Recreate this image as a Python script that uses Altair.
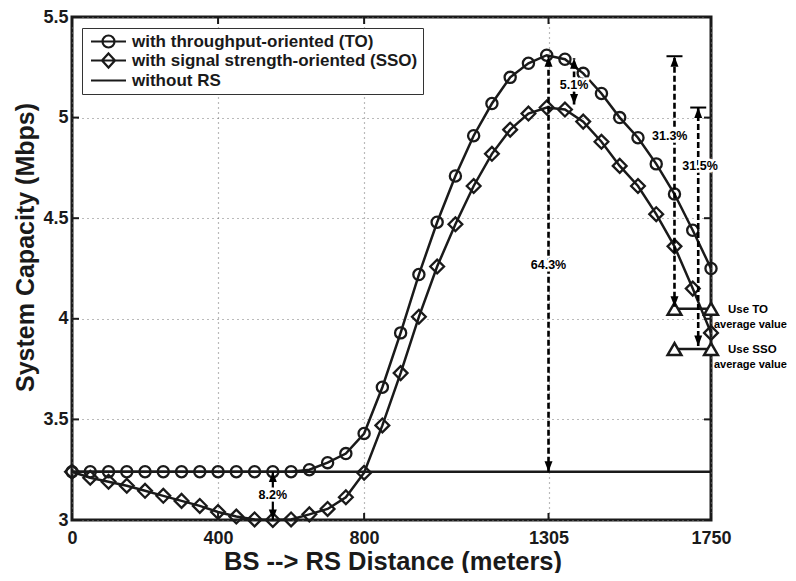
import altair as alt
import pandas as pd

# ---------------- data ----------------
dist = [0, 50, 100, 150, 200, 250, 300, 350, 400, 450, 500, 550, 600, 650, 700, 750,
        800, 850, 900, 950, 1000, 1050, 1100, 1150, 1200, 1250, 1300, 1350, 1400, 1450,
        1500, 1550, 1600, 1650, 1700, 1750]
cap_to = [3.24, 3.24, 3.24, 3.24, 3.24, 3.24, 3.24, 3.24, 3.24, 3.24, 3.24, 3.24, 3.24,
          3.25, 3.285, 3.33, 3.43, 3.66, 3.93, 4.22, 4.48, 4.71, 4.91, 5.07, 5.20, 5.27,
          5.31, 5.29, 5.22, 5.12, 5.00, 4.90, 4.77, 4.62, 4.44, 4.25]
cap_sso = [3.24, 3.21, 3.19, 3.17, 3.145, 3.12, 3.095, 3.07, 3.04, 3.017, 3.003, 3.0, 3.003,
           3.028, 3.055, 3.113, 3.235, 3.47, 3.73, 4.01, 4.26, 4.47, 4.66, 4.82, 4.94, 5.02,
           5.05, 5.04, 4.98, 4.88, 4.76, 4.66, 4.52, 4.36, 4.15, 3.93]
cap_no_rs = 3.24

x_ticks = [0, 400, 800, 1305, 1750]
y_ticks = [3, 3.5, 4, 4.5, 5, 5.5]

series_names = ["with throughput-oriented (TO)",
                "with signal strength-oriented (SSO)",
                "without RS"]

# percentage arrows
arrow_x = [1305, 1375, 1650, 1715, 550]
arrow_lo = [3.24, 5.065, 4.06, 3.865, 3.0]
arrow_hi = [5.305, 5.295, 5.305, 5.05, 3.24]
arrow_dashed = [True, True, True, True, False]
arrow_text = ["64.3%", "5.1%", "31.3%", "31.5%", "8.2%"]
arrow_text_x = [1305, 1375, 1637, 1720, 550]
arrow_text_y = [4.265, 5.16, 4.91, 4.76, 3.124]

cap_x = [1650, 1715]
cap_y = [5.305, 5.05]

avg_label = ["Use TO", "Use SSO"]
avg_value = [4.05, 3.85]
avg_from = [1650, 1650]
avg_to = [1750, 1750]

# ---------------- style ----------------
FONT = "Liberation Sans"
INK = "#1a1a1a"
W, H = 639, 503

xs = alt.Scale(domain=[0, 1750], nice=False, zero=False)
ys = alt.Scale(domain=[3, 5.5], nice=False, zero=False)

curves = pd.DataFrame({"d": dist * 2,
                       "v": cap_to + cap_sso,
                       "s": ["TO"] * len(dist) + ["SSO"] * len(dist)})
to_df = pd.DataFrame({"d": dist, "v": cap_to})
sso_df = pd.DataFrame({"d": dist, "v": cap_sso})
base_df = pd.DataFrame({"d": [dist[0], dist[-1]], "v": [cap_no_rs, cap_no_rs]})
arr_df = pd.DataFrame({"x": arrow_x, "lo": arrow_lo, "hi": arrow_hi,
                       "dashed": arrow_dashed, "t": arrow_text,
                       "tx": arrow_text_x, "ty": arrow_text_y})
capdf = pd.DataFrame({"x": cap_x, "y": cap_y})
avg_df = pd.DataFrame({"lab": avg_label, "y": avg_value, "x1": avg_from, "x2": avg_to})
avg_pts = pd.DataFrame({"x": avg_from + avg_to, "y": avg_value + avg_value})
xt_df = pd.DataFrame({"t": x_ticks})
yt_df = pd.DataFrame({"t": y_ticks})
leg_df = pd.DataFrame({"s": series_names})

X = alt.X("d:Q", scale=xs,
          axis=alt.Axis(values=x_ticks, title="BS --> RS Distance (meters)",
                        labelExpr="'' + datum.value",
                        grid=True, gridDash=[1, 4], gridColor="#777", gridWidth=1.2,
                        ticks=False, domain=False, labelPadding=9,
                        labelFont=FONT, labelFontSize=18, labelFontWeight="bold",
                        labelColor=INK, labelFlush=False,
                        titleFont=FONT, titleFontSize=25.5, titleFontWeight="bold",
                        titleColor=INK, titleBaseline="alphabetic", titleY=49,
                        titleX=W / 2 + 1))
Y = alt.Y("v:Q", scale=ys,
          axis=alt.Axis(values=y_ticks, title="System Capacity (Mbps)",
                        labelExpr="'' + datum.value",
                        grid=True, gridDash=[1, 4], gridColor="#777", gridWidth=1.2,
                        ticks=False, domain=False, labelPadding=4,
                        labelFont=FONT, labelFontSize=18, labelFontWeight="bold",
                        labelColor=INK, labelFlush=False,
                        titleFont=FONT, titleFontSize=25, titleFontWeight="bold",
                        titleColor=INK, titleAngle=270, titleAlign="center",
                        titleBaseline="alphabetic", titleX=-39, titleY=230))

base_line = alt.Chart(base_df).mark_line(color=INK, strokeWidth=2.5).encode(x=X, y=Y)

lines = alt.Chart(curves).mark_line(color=INK, strokeWidth=2.5).encode(
    x=alt.X("d:Q", scale=xs), y=alt.Y("v:Q", scale=ys), detail="s:N")

to_pts = alt.Chart(to_df).mark_point(shape="circle", size=125, filled=False,
                                     color=INK, strokeWidth=2.3, opacity=1).encode(
    x=alt.X("d:Q", scale=xs), y=alt.Y("v:Q", scale=ys))
sso_pts = alt.Chart(sso_df).mark_point(shape="diamond", size=190, filled=False,
                                       color=INK, strokeWidth=2.3, opacity=1).encode(
    x=alt.X("d:Q", scale=xs), y=alt.Y("v:Q", scale=ys))

# arrows
ax = alt.X("x:Q", scale=xs)
dashed_rules = alt.Chart(arr_df).transform_filter("datum.dashed").mark_rule(
    color="black", strokeWidth=2.6, strokeDash=[6, 3]).encode(
    x=ax, y=alt.Y("lo:Q", scale=ys), y2="hi:Q")
solid_rules = alt.Chart(arr_df).transform_filter("!datum.dashed").mark_rule(
    color="black", strokeWidth=2.2).encode(
    x=ax, y=alt.Y("lo:Q", scale=ys), y2="hi:Q")
UP = "M0,0L-0.5,1.3L0.5,1.3Z"
DOWN = "M0,0L-0.5,-1.3L0.5,-1.3Z"
head_up = alt.Chart(arr_df).mark_point(shape=UP, size=256, filled=True, color="black",
                                       opacity=1).encode(x=ax, y=alt.Y("hi:Q", scale=ys))
head_dn = alt.Chart(arr_df).mark_point(shape=DOWN, size=256, filled=True, color="black",
                                       opacity=1).encode(x=ax, y=alt.Y("lo:Q", scale=ys))
caps = alt.Chart(capdf).mark_tick(orient="horizontal", size=16, thickness=2,
                                  color="black", opacity=1).encode(
    x=alt.X("x:Q", scale=xs), y=alt.Y("y:Q", scale=ys))
halo = alt.Chart(arr_df).mark_text(font=FONT, fontSize=12.5, fontWeight="bold",
                                   color="white", stroke="white", strokeWidth=5).encode(
    x=alt.X("tx:Q", scale=xs), y=alt.Y("ty:Q", scale=ys), text="t:N")
pct = alt.Chart(arr_df).mark_text(font=FONT, fontSize=12.5, fontWeight="bold",
                                  color="black").encode(
    x=alt.X("tx:Q", scale=xs), y=alt.Y("ty:Q", scale=ys), text="t:N")

# average value markers
avg_rule = alt.Chart(avg_df).mark_rule(color=INK, strokeWidth=2.3).encode(
    x=alt.X("x1:Q", scale=xs), x2="x2:Q", y=alt.Y("y:Q", scale=ys))
avg_tri = alt.Chart(avg_pts).mark_point(shape="triangle-up", size=190, filled=False,
                                        fill="white", fillOpacity=1, color=INK,
                                        strokeWidth=2.5, opacity=1).encode(
    x=alt.X("x:Q", scale=xs), y=alt.Y("y:Q", scale=ys))
avg_t1 = alt.Chart(avg_df).mark_text(font=FONT, fontSize=11.5, fontWeight="bold",
                                     color="black", align="left", dx=17, dy=1).encode(
    x=alt.X("x2:Q", scale=xs), y=alt.Y("y:Q", scale=ys), text="lab:N")
avg_t2 = alt.Chart(avg_df).mark_text(font=FONT, fontSize=11, fontWeight="bold",
                                     color="black", align="left", dx=3, dy=16).encode(
    x=alt.X("x2:Q", scale=xs), y=alt.Y("y:Q", scale=ys), text=alt.value("average value"))

# inward ticks
tick_x_b = alt.Chart(xt_df).mark_rule(color=INK, strokeWidth=2).encode(
    x=alt.X("t:Q", scale=xs), y=alt.value(H), y2=alt.value(H - 7))
tick_x_t = alt.Chart(xt_df).mark_rule(color=INK, strokeWidth=2).encode(
    x=alt.X("t:Q", scale=xs), y=alt.value(0), y2=alt.value(7))
tick_y_l = alt.Chart(yt_df).mark_rule(color=INK, strokeWidth=2).encode(
    y=alt.Y("t:Q", scale=ys), x=alt.value(0), x2=alt.value(7))
tick_y_r = alt.Chart(yt_df).mark_rule(color=INK, strokeWidth=2).encode(
    y=alt.Y("t:Q", scale=ys), x=alt.value(W - 7), x2=alt.value(W))

# legend (library legend with custom symbols; unit = sqrt(size)/2 = 6 px)
P_CIRCLE = ("M-0.75,0H5.083M3.167,0A1,1,0,1,1,1.167,0"
            "A1,1,0,1,1,3.167,0Z")
P_DIAMOND = "M-0.75,0H5.083M2.167,-1.17L3.25,0L2.167,1.17L1.083,0Z"
P_LINE = "M-0.75,0H5.083"
legend_layer = alt.Chart(leg_df).transform_filter("false").mark_point(
    filled=False, color=INK, strokeWidth=2.2).encode(
    shape=alt.Shape("s:N",
                    scale=alt.Scale(domain=series_names,
                                    range=[P_CIRCLE, P_DIAMOND, P_LINE]),
                    legend=alt.Legend(orient="none", legendX=10, legendY=11,
                                      title=None, padding=5, strokeColor="#333",
                                      fillColor="white", labelFont=FONT,
                                      labelFontSize=17, labelFontWeight="bold",
                                      labelColor=INK, labelLimit=500,
                                      symbolSize=144, symbolStrokeWidth=2.2,
                                      symbolStrokeColor=INK,
                                      symbolFillColor="transparent",
                                      symbolOpacity=1,
                                      rowPadding=-3, labelOffset=28)))

chart = alt.layer(
    base_line, lines, to_pts, sso_pts,
    avg_rule, avg_tri, avg_t1, avg_t2,
    dashed_rules, solid_rules, head_up, head_dn, caps, halo, pct,
    tick_x_b, tick_x_t, tick_y_l, tick_y_r,
    legend_layer,
).properties(
    width=W, height=H,
    padding={"left": 64, "top": 9, "right": 77, "bottom": 53},
    autosize=alt.AutoSizeParams(type="none"),
    background="white",
).configure_view(stroke=INK, strokeWidth=3)

chart.save("out.html", embed_options={"renderer": "svg", "actions": False})
